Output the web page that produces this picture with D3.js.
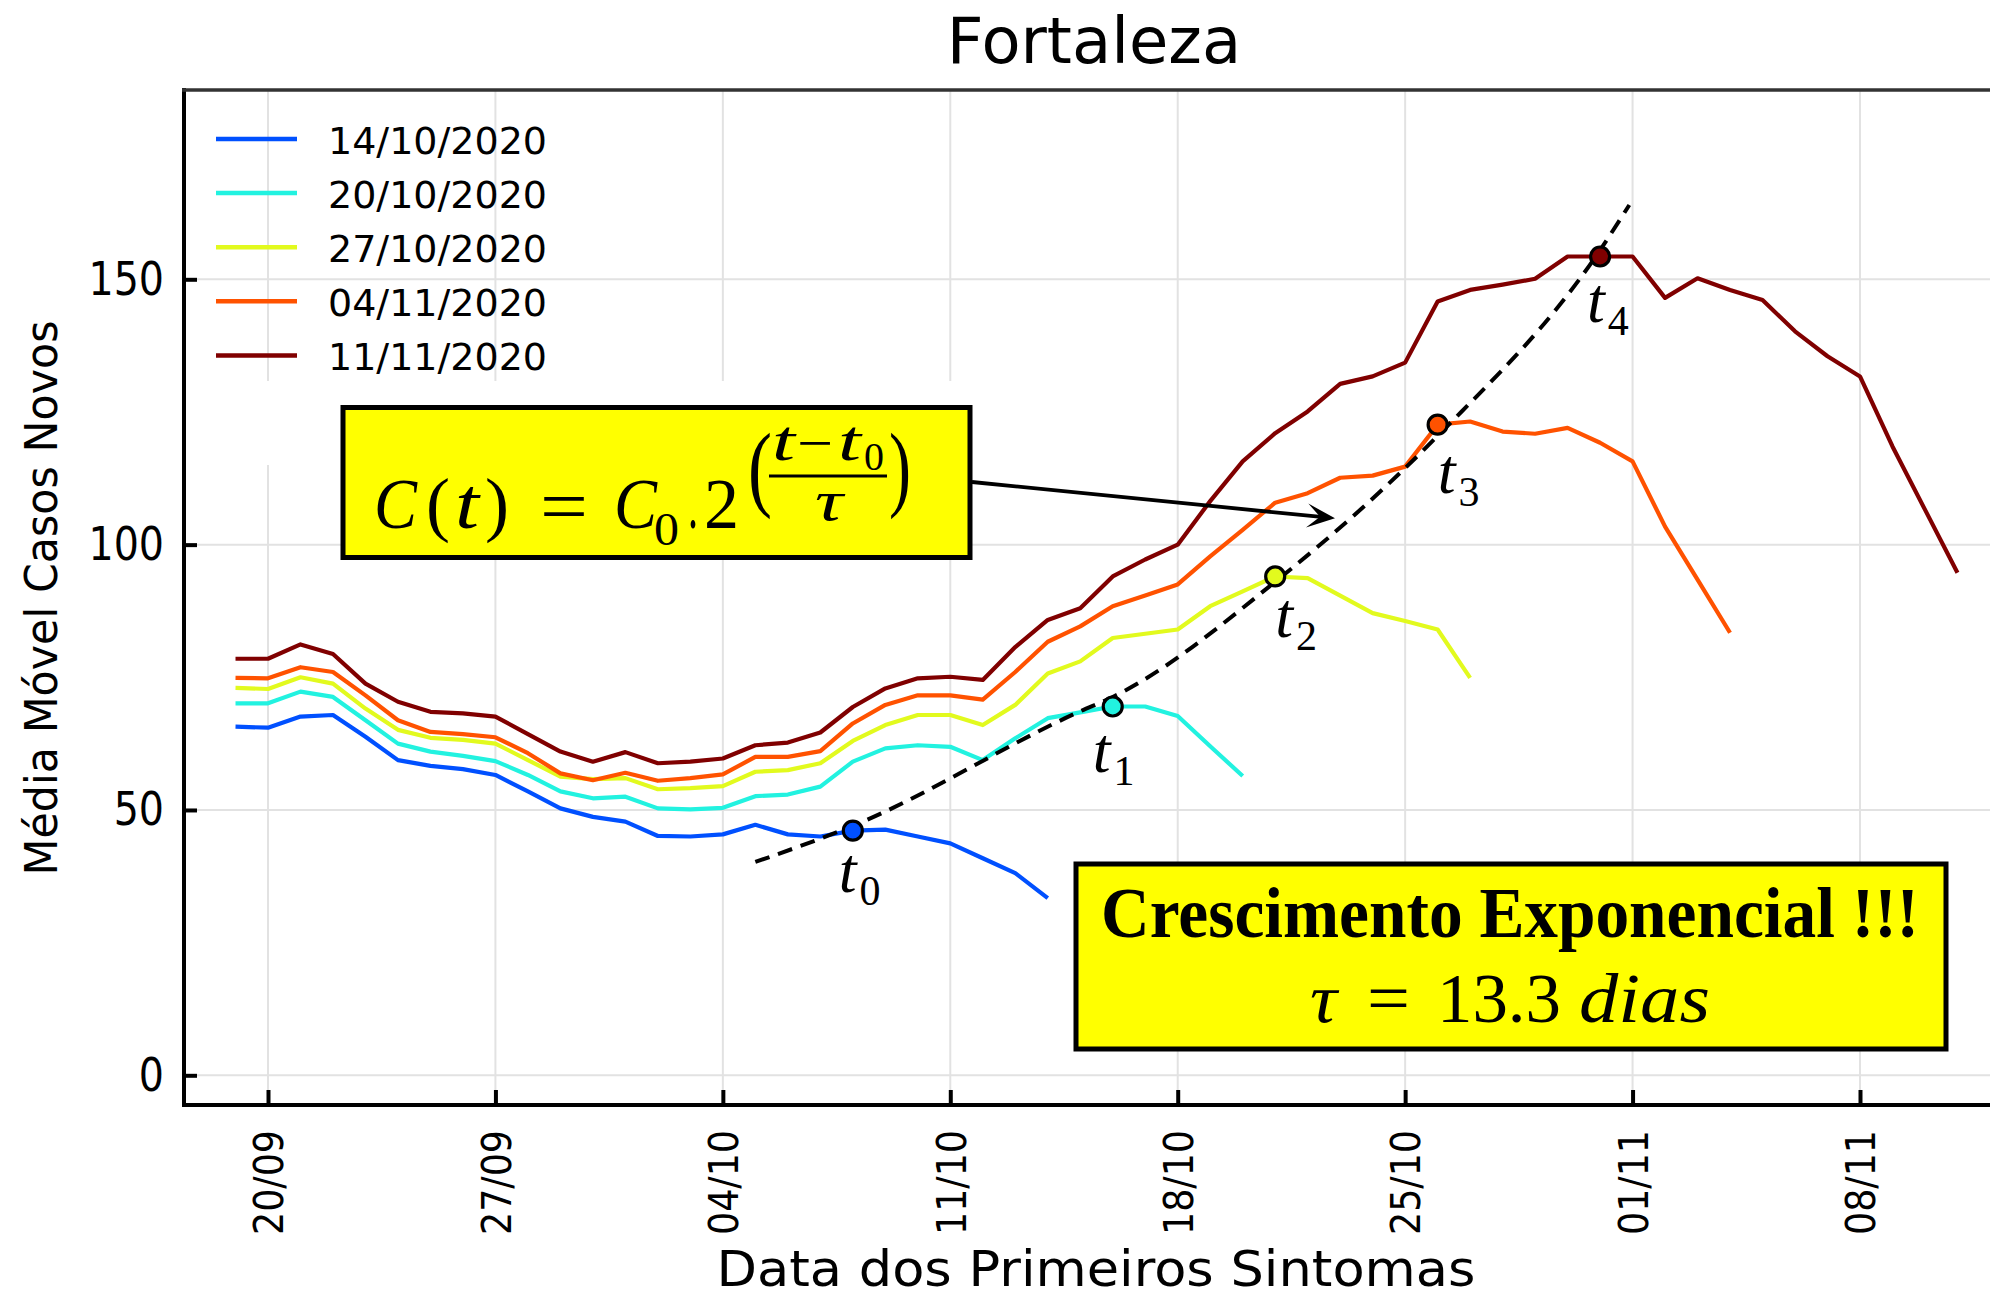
<!DOCTYPE html>
<html>
<head>
<meta charset="utf-8">
<script src="https://d3js.org/d3.v7.min.js"></script>
<style>
    body { margin: 0; background: #fff; }
    text { font-family: "DejaVu Sans", sans-serif; fill: #000; }
    .math { font-family: "Liberation Serif", "DejaVu Serif", serif; }
</style>
</head>
<body>
<svg id="chart" width="1990" height="1297"></svg>
<script>
// --- dados (media movel, um valor por dia a partir de 19/09) ---
var firstDay = "2020-09-19";
var seriesNames = ["14/10/2020", "20/10/2020", "27/10/2020", "04/11/2020", "11/11/2020"];
var seriesColors = ["#0050ff", "#22f2e0", "#e2fa1e", "#ff5200", "#800000"];

var casos1410 = [65.7, 65.5, 67.6, 67.9, 63.8, 59.4, 58.3, 57.7, 56.6, 53.5, 50.3, 48.7, 47.8,
    45.1, 45.0, 45.4, 47.2, 45.4, 45.0, 46.1, 46.3, 45.0, 43.7, 40.9, 38.1, 33.4];
var casos2010 = [70.1, 70.1, 72.3, 71.3, 66.9, 62.5, 61.0, 60.2, 59.2, 56.6, 53.5, 52.2, 52.5,
    50.3, 50.1, 50.4, 52.6, 52.9, 54.4, 59.1, 61.6, 62.2, 61.9, 59.4, 63.5, 67.3, 68.4,
    69.5, 69.5, 67.7, 62.0, 56.4];
var casos2710 = [73.0, 72.8, 75.0, 73.8, 69.1, 65.1, 63.6, 63.2, 62.5, 59.4, 56.3, 55.8, 56.0,
    53.9, 54.1, 54.5, 57.2, 57.5, 58.8, 63.0, 66.0, 67.9, 67.9, 66.0, 69.8, 75.7, 78.0,
    82.4, 83.2, 84.0, 88.4, 91.2, 94.0, 93.7, 90.4, 87.1, 85.6, 84.0, 74.9];
var casos0411 = [74.9, 74.8, 76.9, 76.0, 71.6, 66.9, 64.7, 64.3, 63.7, 60.7, 56.9, 55.6, 57.0,
    55.5, 56.0, 56.7, 60.0, 60.0, 61.1, 66.3, 69.8, 71.6, 71.6, 70.8, 76.0, 81.7, 84.6,
    88.4, 90.4, 92.5, 97.8, 102.8, 107.9, 109.7, 112.6, 113.0, 114.7, 122.6, 123.2, 121.3,
    120.9, 122.0, 119.2, 115.7, 103.4, 93.4, 83.4];
var casos1111 = [78.5, 78.5, 81.2, 79.4, 73.8, 70.4, 68.5, 68.2, 67.6, 64.3, 61.0, 59.1, 60.9,
    58.8, 59.1, 59.7, 62.2, 62.7, 64.6, 69.4, 72.9, 74.8, 75.1, 74.5, 80.7, 85.8, 88.0,
    94.0, 97.2, 100.0, 108.2, 115.7, 121.0, 125.1, 130.3, 131.7, 134.3, 145.8, 148.0, 149.0,
    150.1, 154.3, 154.3, 154.3, 146.5, 150.2, 148.0, 146.1, 140.2, 135.5, 131.7, 118.5,
    106.6, 94.7];

var allSeries = [casos1410, casos2010, casos2710, casos0411, casos1111];

var tickDates = ["2020-09-20", "2020-09-27", "2020-10-04", "2020-10-11",
                 "2020-10-18", "2020-10-25", "2020-11-01", "2020-11-08"];
var tickLabels = ["20/09", "27/09", "04/10", "11/10", "18/10", "25/10", "01/11", "08/11"];
var yTicks = [0, 50, 100, 150];

// pontos t0..t4 (indice do dia no array de cada serie)
var markerIndex = [19, 27, 32, 37, 42];
var markerNames = ["0", "1", "2", "3", "4"];

// curva tracejada (dias desde 19/09)
var fitIndex = [16, 19, 26, 27, 32, 37, 42, 42.9];
var fitValues = [40.2, 47.0, 68.6, 71.3, 93.0, 120.5, 155.5, 164.0];

// --- escalas ---
var parse = d3.utcParse("%Y-%m-%d");
var day0 = parse(firstDay);
function dateOf(i) { return new Date(day0.getTime() + i * 864e5); }

var plotLeft = 184, plotRight = 1990, plotTop = 90, plotBottom = 1105;

var x = d3.scaleUtc()
    .domain([parse(tickDates[0]), parse(tickDates[tickDates.length - 1])])
    .range([268, 1860]);
var y = d3.scaleLinear().domain([0, 150]).range([1075.3, 279.3]);

var svg = d3.select("#chart");

// grade
var grid = svg.append("g").attr("stroke", "#e2e2e2").attr("stroke-width", 2);
grid.selectAll(".gx").data(tickDates).enter().append("line")
    .attr("x1", function(d) { return x(parse(d)); })
    .attr("x2", function(d) { return x(parse(d)); })
    .attr("y1", plotTop).attr("y2", plotBottom);
grid.selectAll(".gy").data(yTicks).enter().append("line")
    .attr("x1", plotLeft).attr("x2", plotRight)
    .attr("y1", function(d) { return y(d); })
    .attr("y2", function(d) { return y(d); });

// mancha branca da imagem colada
svg.append("rect").attr("x", 190).attr("y", 381).attr("width", 810).attr("height", 84)
    .attr("fill", "#fff");

// eixos
var yAxis = svg.append("g")
    .attr("transform", "translate(" + plotLeft + ",0)")
    .call(d3.axisLeft(y).tickValues(yTicks).tickSize(-13).tickPadding(20));
yAxis.select(".domain").remove();
yAxis.selectAll(".tick line").attr("stroke", "#000").attr("stroke-width", 4);
yAxis.selectAll(".tick text")
    .attr("font-size", 46).attr("font-family", "DejaVu Sans").attr("fill", "#111")
    .each(function() {
        var w = this.getComputedTextLength();
        d3.select(this).attr("textLength", w * 0.86).attr("lengthAdjust", "spacingAndGlyphs");
    });

var xAxis = svg.append("g")
    .attr("transform", "translate(0," + plotBottom + ")")
    .call(d3.axisBottom(x).tickValues(tickDates.map(parse)).tickSize(-15)
        .tickFormat(function(d, i) { return tickLabels[i]; }));
xAxis.select(".domain").remove();
xAxis.selectAll(".tick line").attr("stroke", "#000").attr("stroke-width", 4);
xAxis.selectAll(".tick text")
    .attr("font-size", 41).attr("font-family", "DejaVu Sans").attr("fill", "#111")
    .attr("transform", "rotate(-90)")
    .attr("text-anchor", "end")
    .attr("x", -25).attr("y", 0).attr("dy", "0.36em")
    .attr("textLength", 105).attr("lengthAdjust", "spacingAndGlyphs");

// linhas
var line = d3.line()
    .x(function(d, i) { return x(dateOf(i)); })
    .y(function(d) { return y(d); });

svg.selectAll(".serie").data(allSeries).enter().append("path")
    .attr("d", line)
    .attr("fill", "none")
    .attr("stroke", function(d, i) { return seriesColors[i]; })
    .attr("stroke-width", 4.2)
    .attr("stroke-linejoin", "round");

// ajuste exponencial (tracejado)
var fitLine = d3.line()
    .x(function(d, i) { return x(dateOf(fitIndex[i])); })
    .y(function(d) { return y(d); })
    .curve(d3.curveMonotoneX);
svg.append("path").datum(fitValues)
    .attr("d", fitLine)
    .attr("fill", "none").attr("stroke", "#000")
    .attr("stroke-width", 4).attr("stroke-dasharray", "15,9");

// marcadores
svg.selectAll(".mk").data(markerIndex).enter().append("circle")
    .attr("cx", function(d) { return x(dateOf(d)); })
    .attr("cy", function(d, i) { return y(allSeries[i][d]); })
    .attr("r", 9.5)
    .attr("fill", function(d, i) { return seriesColors[i]; })
    .attr("stroke", "#000").attr("stroke-width", 3.2);

var labelOffsets = [[-14, 61], [-20, 66], [0, 61], [0, 68], [-13, 66]];
var lab = svg.selectAll(".tl").data(markerIndex).enter().append("text")
    .attr("class", "math")
    .attr("x", function(d, i) { return x(dateOf(d)) + labelOffsets[i][0]; })
    .attr("y", function(d, i) { return y(allSeries[i][d]) + labelOffsets[i][1]; })
    .attr("font-size", 64).attr("font-style", "italic");
lab.append("tspan").text("t");
lab.append("tspan").attr("dx", 3).attr("dy", 13).attr("font-size", 42).attr("font-style", "normal")
    .text(function(d, i) { return markerNames[i]; });

// quadro
svg.append("line").attr("x1", plotLeft).attr("x2", plotLeft)
    .attr("y1", plotTop - 2).attr("y2", plotBottom + 2)
    .attr("stroke", "#000").attr("stroke-width", 4);
svg.append("line").attr("x1", plotLeft - 2).attr("x2", plotRight)
    .attr("y1", plotBottom).attr("y2", plotBottom)
    .attr("stroke", "#000").attr("stroke-width", 4);
svg.append("line").attr("x1", plotLeft - 2).attr("x2", plotRight)
    .attr("y1", plotTop).attr("y2", plotTop)
    .attr("stroke", "#333").attr("stroke-width", 3.5);

// legenda
var leg = svg.selectAll(".leg").data(seriesNames).enter().append("g")
    .attr("transform", function(d, i) { return "translate(0," + (139 + i * 54.1) + ")"; });
leg.append("line").attr("x1", 216).attr("x2", 297).attr("y1", 0).attr("y2", 0)
    .attr("stroke", function(d, i) { return seriesColors[i]; }).attr("stroke-width", 4.5);
leg.append("text").attr("x", 328).attr("y", 15).attr("font-size", 38).attr("fill", "#111")
    .text(function(d) { return d; });

// titulos
svg.append("text").attr("x", 1094).attr("y", 63).attr("text-anchor", "middle")
    .attr("font-size", 64).attr("fill", "#111").text("Fortaleza");
svg.append("text").attr("x", 1096).attr("y", 1286).attr("text-anchor", "middle")
    .attr("font-size", 50).attr("fill", "#111")
    .attr("textLength", 759).attr("lengthAdjust", "spacingAndGlyphs")
    .text("Data dos Primeiros Sintomas");
svg.append("text").attr("transform", "translate(57,598) rotate(-90)").attr("text-anchor", "middle")
    .attr("font-size", 44).attr("fill", "#111")
    .attr("textLength", 555).attr("lengthAdjust", "spacingAndGlyphs")
    .text("Média Móvel Casos Novos");

// caixa da formula
function piece(g, str, px, py, size, italic, w, weight) {
    var t = g.append("text").attr("class", "math")
        .attr("x", px).attr("y", py).attr("font-size", size)
        .attr("font-style", italic ? "italic" : "normal")
        .text(str);
    if (weight) t.attr("font-weight", weight);
    if (w) t.attr("textLength", w).attr("lengthAdjust", "spacingAndGlyphs");
    return t;
}

var f = svg.append("g");
f.append("rect").attr("x", 343).attr("y", 407.5).attr("width", 627).attr("height", 150)
    .attr("fill", "#ffff00").attr("stroke", "#000").attr("stroke-width", 5);
piece(f, "C", 374, 528, 72, true, 43);
piece(f, "(", 426, 528, 72, false, 24);
piece(f, "t", 455, 528, 72, true, 24);
piece(f, ")", 485, 528, 72, false, 24);
piece(f, "=", 540, 532, 76, false, 48);
piece(f, "C", 614, 528, 72, true, 43);
piece(f, "0", 654, 545, 46, false, 25);
piece(f, ".", 688, 528, 72, false, 10);
piece(f, "2", 704, 528, 72, false, 35);
piece(f, "(", 748, 499, 96, false, 24);
piece(f, "t", 772, 460, 56, true, 23);
piece(f, "\u2212", 797, 462, 56, false, 36);
piece(f, "t", 838, 460, 56, true, 23);
piece(f, "0", 864, 470, 40, false, 20);
f.append("line").attr("x1", 769).attr("x2", 887).attr("y1", 476).attr("y2", 476)
    .attr("stroke", "#000").attr("stroke-width", 3);
piece(f, "\u03c4", 815, 520, 56, true, 28);
piece(f, ")", 889, 499, 96, false, 22);

// seta
var ax0 = 972, ay0 = 482, ax1 = 1335, ay1 = 518.3;
var ang = Math.atan2(ay1 - ay0, ax1 - ax0) * 180 / Math.PI;
svg.append("line").attr("x1", ax0).attr("y1", ay0)
    .attr("x2", ax1 - 14 * Math.cos(ang * Math.PI / 180))
    .attr("y2", ay1 - 14 * Math.sin(ang * Math.PI / 180))
    .attr("stroke", "#000").attr("stroke-width", 3.8);
svg.append("path").attr("d", "M0,0 L-28,-12 L-15,0 L-28,12 Z")
    .attr("transform", "translate(" + ax1 + "," + ay1 + ") rotate(" + ang + ")")
    .attr("fill", "#000");

// caixa do crescimento
var c = svg.append("g");
c.append("rect").attr("x", 1076).attr("y", 864).attr("width", 870).attr("height", 185)
    .attr("fill", "#ffff00").attr("stroke", "#000").attr("stroke-width", 5);
piece(c, "Crescimento Exponencial !!!", 1101, 937, 72, false, 818, "bold");
piece(c, "\u03c4", 1310, 1022, 70, true, 27);
piece(c, "=", 1367, 1022, 70, false, 43);
piece(c, "13.3", 1437, 1022, 70, false, 124);
piece(c, "dias", 1579, 1022, 70, true, 131);
</script>
</body>
</html>
